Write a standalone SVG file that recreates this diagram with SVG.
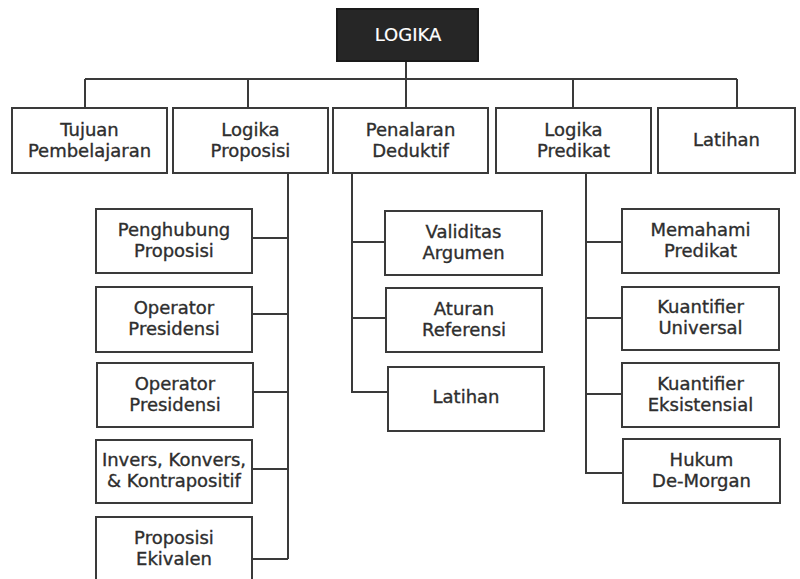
<svg xmlns="http://www.w3.org/2000/svg" width="800" height="579" viewBox="0 0 800 579">
<style>
.box{fill:#fff;stroke:#3a3a3a;stroke-width:2}
.t{font-family:"DejaVu Sans",Verdana,sans-serif;font-size:18px;fill:#2e2e2e;stroke:#2e2e2e;stroke-width:0.35;text-anchor:middle}
.w{fill:#fff;stroke:#fff;stroke-width:0.2}
.c{fill:none;stroke:#3a3a3a;stroke-width:2}
</style>
<rect width="800" height="579" fill="#fff"/>
<g id="connectors">
<path class="c" d="M406 61V79M85 79H737M85 79V108M248 79V108M406 79V108M573 79V108M737 79V108"/>
<path class="c" d="M288 173V559M252 238H288M252 314H288M253 392H288M252 469H288M252 559H288"/>
<path class="c" d="M352 173V392H388M352 242H385M352 318H385"/>
<path class="c" d="M586 173V473H623M586 242H622M586 318H622M586 394H622"/>
</g>
<g id="logika"><rect x="337" y="9" width="141" height="52" fill="#262626" stroke="#1a1a1a" stroke-width="2"/><text class="t w" x="408" y="41">LOGIKA</text></g>
<g id="tujuan"><rect class="box" x="12" y="108" width="155" height="65"/><text class="t" x="89.5" y="136">Tujuan</text><text class="t" x="89.5" y="157">Pembelajaran</text></g>
<g id="logika-proposisi"><rect class="box" x="173" y="108" width="155" height="65"/><text class="t" x="250.5" y="136">Logika</text><text class="t" x="250.5" y="157">Proposisi</text></g>
<g id="penalaran"><rect class="box" x="333" y="108" width="155" height="65"/><text class="t" x="410.5" y="136">Penalaran</text><text class="t" x="410.5" y="157">Deduktif</text></g>
<g id="logika-predikat"><rect class="box" x="496" y="108" width="155" height="65"/><text class="t" x="573.5" y="136">Logika</text><text class="t" x="573.5" y="157">Predikat</text></g>
<g id="latihan-top"><rect class="box" x="658" y="108" width="137" height="65"/><text class="t" x="726.5" y="146">Latihan</text></g>
<g id="penghubung"><rect class="box" x="96" y="209" width="156" height="64"/><text class="t" x="174" y="236">Penghubung</text><text class="t" x="174" y="257">Proposisi</text></g>
<g id="operator1"><rect class="box" x="96" y="287" width="156" height="65"/><text class="t" x="174" y="314">Operator</text><text class="t" x="174" y="335">Presidensi</text></g>
<g id="operator2"><rect class="box" x="97" y="363" width="156" height="64"/><text class="t" x="175" y="390">Operator</text><text class="t" x="175" y="411">Presidensi</text></g>
<g id="invers"><rect class="box" x="96" y="440" width="156" height="63"/><text class="t" x="174" y="466">Invers, Konvers,</text><text class="t" x="174" y="487">&amp; Kontrapositif</text></g>
<g id="ekivalen"><rect class="box" x="96" y="517" width="156" height="70"/><text class="t" x="174" y="544">Proposisi</text><text class="t" x="174" y="565">Ekivalen</text></g>
<g id="validitas"><rect class="box" x="385" y="211" width="157" height="64"/><text class="t" x="463.5" y="238">Validitas</text><text class="t" x="463.5" y="259">Argumen</text></g>
<g id="aturan"><rect class="box" x="386" y="288" width="156" height="64"/><text class="t" x="464" y="315">Aturan</text><text class="t" x="464" y="336">Referensi</text></g>
<g id="latihan-sub"><rect class="box" x="388" y="367" width="156" height="64"/><text class="t" x="466" y="403">Latihan</text></g>
<g id="memahami"><rect class="box" x="622" y="209" width="157" height="64"/><text class="t" x="700.5" y="236">Memahami</text><text class="t" x="700.5" y="257">Predikat</text></g>
<g id="universal"><rect class="box" x="622" y="287" width="157" height="63"/><text class="t" x="700.5" y="313">Kuantifier</text><text class="t" x="700.5" y="334">Universal</text></g>
<g id="eksistensial"><rect class="box" x="622" y="363" width="157" height="64"/><text class="t" x="700.5" y="390">Kuantifier</text><text class="t" x="700.5" y="411">Eksistensial</text></g>
<g id="hukum"><rect class="box" x="623" y="439" width="157" height="64"/><text class="t" x="701.5" y="466">Hukum</text><text class="t" x="701.5" y="487">De-Morgan</text></g>
</svg>
